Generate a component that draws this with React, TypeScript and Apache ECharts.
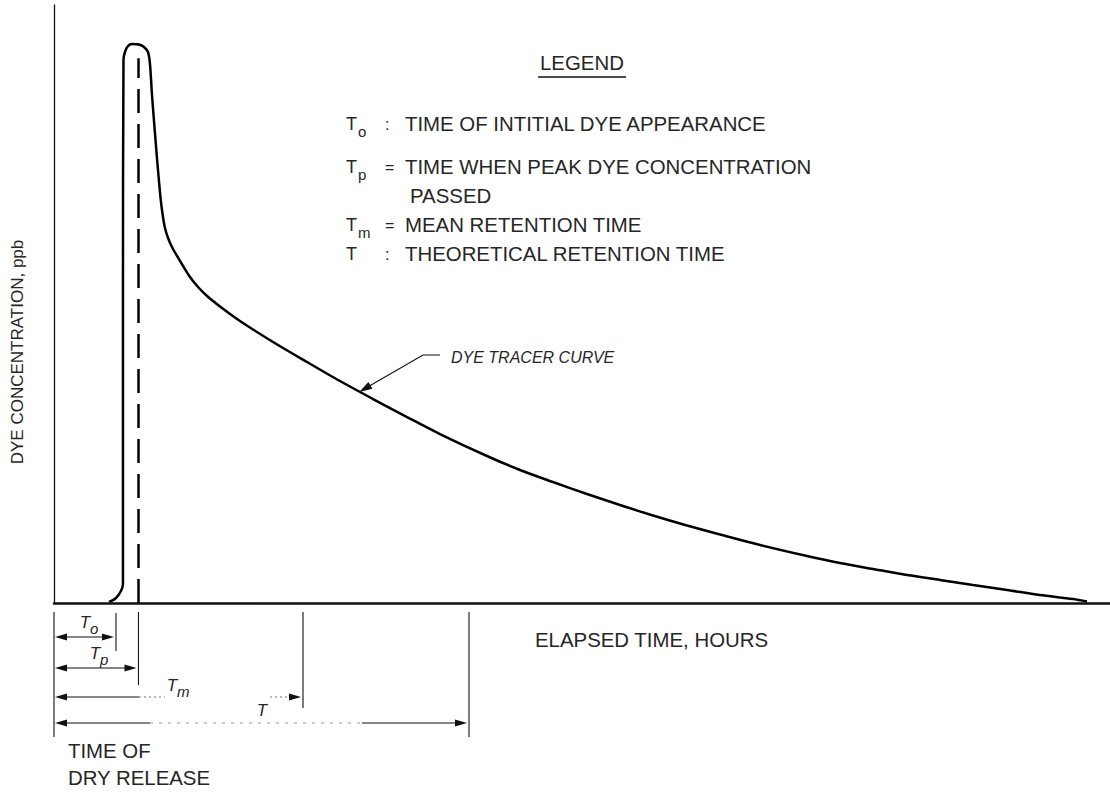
import React, { useEffect, useRef } from "react";
import * as echarts from "echarts";

// Dye tracer curve: elapsed time (relative units 0-100) vs dye concentration (relative ppb 0-100)
const timeValues = [5.21, 5.87, 6.34, 6.53, 6.53, 6.58, 6.72, 7.01, 7.39, 8.05, 8.52, 8.9, 9.09, 9.28, 9.56, 9.75, 9.94, 10.13, 10.32, 10.51, 10.8, 11.17, 11.65, 12.22, 12.88, 13.64, 14.49, 15.91, 17.61, 20.74, 23.96, 27.08, 30.21, 33.43, 36.55, 41.0, 44.13, 47.25, 50.47, 53.6, 56.72, 59.94, 63.07, 66.86, 71.31, 74.43, 77.56, 80.78, 83.9, 87.03, 90.25, 93.37, 96.5, 97.82];
const concValues = [0.17, 0.84, 2.01, 3.18, 50.67, 90.8, 92.14, 93.14, 93.48, 93.39, 92.98, 92.14, 90.13, 84.95, 78.6, 74.41, 70.57, 67.06, 64.55, 62.71, 61.04, 59.53, 58.03, 56.35, 54.52, 52.84, 51.34, 49.33, 47.16, 43.65, 40.3, 37.12, 34.11, 31.1, 28.26, 24.58, 22.24, 20.23, 18.23, 16.39, 14.63, 12.96, 11.46, 9.7, 7.86, 6.69, 5.69, 4.68, 3.85, 3.01, 2.17, 1.34, 0.67, 0.25];

// Characteristic times (To, Tp, Tm, T)
const markerSymbols = ["T", "T", "T", "T"];
const markerSubs = ["o", "p", "m", ""];
const markerTimes = [5.87, 8.0, 23.58, 39.3];
const peakDashTop = 91.1;

// Legend
const legendTitle = "LEGEND";
const legendSubs = ["o", "p", "m", ""];
const legendSeps = [":", "=", "=", ":"];
const legendTexts = [
  ["TIME OF INTITIAL DYE APPEARANCE"],
  ["TIME WHEN PEAK DYE CONCENTRATION", "PASSED"],
  ["MEAN RETENTION TIME"],
  ["THEORETICAL RETENTION TIME"],
];

const yTitle = "DYE CONCENTRATION, ppb";
const xTitle = "ELAPSED TIME, HOURS";
const releaseText = ["TIME OF", "DRY RELEASE"];
const curveNote = "DYE TRACER CURVE";
const curveNotePoint = [28.9, 35.3];

const FONT = '"Liberation Sans", Arial, Helvetica, sans-serif';
const INK = "#111";
const TXT = "#262626";

function txt(text: string, x: number, y: number, size: number, opts: any = {}) {
  return {
    type: "text",
    x,
    y,
    silent: true,
    rotation: opts.rotation || 0,
    style: {
      text,
      fill: TXT,
      font: `${opts.italic ? "italic " : ""}${size}px ${FONT}`,
      align: opts.align || "left",
      textAlign: opts.align || "left",
      verticalAlign: "middle",
      textVerticalAlign: "middle",
    },
  };
}
function seg(x1: number, y1: number, x2: number, y2: number, w = 1.2, dash?: number[], color = INK) {
  return {
    type: "line",
    silent: true,
    shape: { x1, y1, x2, y2 },
    style: { stroke: color, lineWidth: w, lineDash: dash || null },
  };
}
function arrowHead(tipX: number, tipY: number, fromX: number, fromY: number, len = 12, half = 3.5) {
  const dx = tipX - fromX;
  const dy = tipY - fromY;
  const d = Math.sqrt(dx * dx + dy * dy) || 1;
  const ux = dx / d;
  const uy = dy / d;
  const bx = tipX - ux * len;
  const by = tipY - uy * len;
  return {
    type: "polygon",
    silent: true,
    shape: { points: [[tipX, tipY], [bx - uy * half, by + ux * half], [bx + uy * half, by - ux * half]] },
    style: { fill: INK },
  };
}

export default function App() {
  const ref = useRef<HTMLDivElement>(null);
  useEffect(() => {
    if (!ref.current) return;
    const chart = echarts.init(ref.current, undefined, { renderer: "svg" });
    const data = timeValues.map((t, i) => [t, concValues[i]]);
    const tp = markerTimes[1];
    chart.setOption({
      animation: false,
      backgroundColor: "#fff",
      grid: { left: 54, right: 0, top: 5, bottom: 191 },
      xAxis: {
        type: "value",
        min: 0,
        max: 100,
        axisLine: { show: true, lineStyle: { color: INK, width: 2.5 } },
        axisTick: { show: false },
        axisLabel: { show: false },
        splitLine: { show: false },
      },
      yAxis: {
        type: "value",
        min: 0,
        max: 100,
        axisLine: { show: true, lineStyle: { color: INK, width: 1.3 } },
        axisTick: { show: false },
        axisLabel: { show: false },
        splitLine: { show: false },
      },
      series: [
        {
          type: "line",
          data,
          symbol: "none",
          smooth: 0.3,
          lineStyle: { color: "#000", width: 2.5 },
          markLine: {
            silent: true,
            symbol: "none",
            label: { show: false },
            lineStyle: { color: "#000", width: 2.5, type: [24, 11] },
            data: [[{ coord: [tp, 0] }, { coord: [tp, peakDashTop] }]],
          },
        },
      ],
    });

    const X = (v: number) => chart.convertToPixel({ xAxisIndex: 0 }, v) as number;
    const Y = (v: number) => chart.convertToPixel({ yAxisIndex: 0 }, v) as number;
    const x0 = X(0);
    const y0 = Y(0);
    const mx = markerTimes.map(X);
    const g: any[] = [];

    // Legend block
    g.push(txt(legendTitle, 540, 63, 20.4));
    g.push(seg(538, 77, 626, 77, 1.6));
    const rowY = [124, 167, 225, 254];
    legendTexts.forEach((lines, i) => {
      const y = rowY[i];
      g.push(txt(markerSymbols[i], 346, y, 18));
      if (legendSubs[i]) g.push(txt(legendSubs[i], 358, y + 7, 15));
      g.push(txt(legendSeps[i], 385, y, 16));
      g.push(txt(lines[0], 405, y, 20.4));
      if (lines[1]) g.push(txt(lines[1], 410, 196, 20.4));
    });

    // Axis titles
    g.push(txt(yTitle, 17, 352, 17, { rotation: Math.PI / 2, align: "center" }));
    g.push(txt(xTitle, 535, 640, 20.4));
    g.push(txt(releaseText[0], 68, 751, 20.4));
    g.push(txt(releaseText[1], 68, 778, 20.4));

    // Curve callout
    const tipX = X(curveNotePoint[0]);
    const tipY = Y(curveNotePoint[1]);
    g.push(txt(curveNote, 451, 357, 16, { italic: true }));
    g.push({
      type: "polyline",
      silent: true,
      shape: { points: [[440, 355], [423, 355], [tipX + 8, tipY - 4.6]] },
      style: { stroke: INK, lineWidth: 1.2, fill: null },
    });
    g.push(arrowHead(tipX, tipY, 423, 355, 13, 4));

    // Dimension ticks below axis
    const tickTop = y0 + 9;
    g.push(seg(x0, tickTop, x0, y0 + 134, 1.1));
    const tickBottoms = [48, 82, 105, 134];
    mx.forEach((x, i) => g.push(seg(x, tickTop + (i === 0 ? 1 : 0), x, y0 + tickBottoms[i], 1.1)));

    // Dimension rows
    const rows = [34, 65, 94, 120].map((d) => y0 + d);
    // To
    g.push(seg(x0 + 6, rows[0], mx[0] - 6, rows[0]));
    g.push(arrowHead(x0 + 1, rows[0], x0 + 20, rows[0]));
    g.push(arrowHead(mx[0] - 2, rows[0], x0, rows[0]));
    // Tp
    g.push(seg(x0 + 6, rows[1], mx[1] - 6, rows[1]));
    g.push(arrowHead(x0 + 1, rows[1], x0 + 20, rows[1]));
    g.push(arrowHead(mx[1] - 2, rows[1], x0, rows[1]));
    // Tm
    g.push(seg(x0 + 6, rows[2], x0 + 85, rows[2]));
    g.push(seg(x0 + 85, rows[2], x0 + 111, rows[2], 1.1, [2, 3], "#777"));
    g.push(seg(mx[2] - 33, rows[2], mx[2] - 14, rows[2], 1.1, [2, 3], "#777"));
    g.push(seg(mx[2] - 14, rows[2], mx[2] - 6, rows[2]));
    g.push(arrowHead(x0 + 1, rows[2], x0 + 20, rows[2]));
    g.push(arrowHead(mx[2] - 2, rows[2], x0, rows[2]));
    // T
    g.push(seg(x0 + 6, rows[3], x0 + 96, rows[3]));
    g.push(seg(x0 + 96, rows[3], mx[3] - 107, rows[3], 1.1, [3, 6], "#999"));
    g.push(seg(mx[3] - 107, rows[3], mx[3] - 6, rows[3]));
    g.push(arrowHead(x0 + 1, rows[3], x0 + 20, rows[3]));
    g.push(arrowHead(mx[3] - 2, rows[3], x0, rows[3]));

    // Dimension labels (italic)
    const labelPos = [
      [x0 + 31, y0 + 19],
      [x0 + 41, y0 + 50],
      [x0 + 118, y0 + 82],
      [x0 + 208, y0 + 107],
    ];
    labelPos.forEach(([lx, ly], i) => {
      g.push(txt(markerSymbols[i], lx, ly, 17, { italic: true, align: "center" }));
      if (markerSubs[i]) g.push(txt(markerSubs[i], lx + 5, ly + 6, 15, { italic: true }));
    });

    chart.setOption({ graphic: { elements: g } });
    return () => chart.dispose();
  }, []);
  return (
    <div
      ref={ref}
      style={{ position: "absolute", left: 0, top: 0, width: 1110, height: 794, background: "#fff" }}
    />
  );
}
